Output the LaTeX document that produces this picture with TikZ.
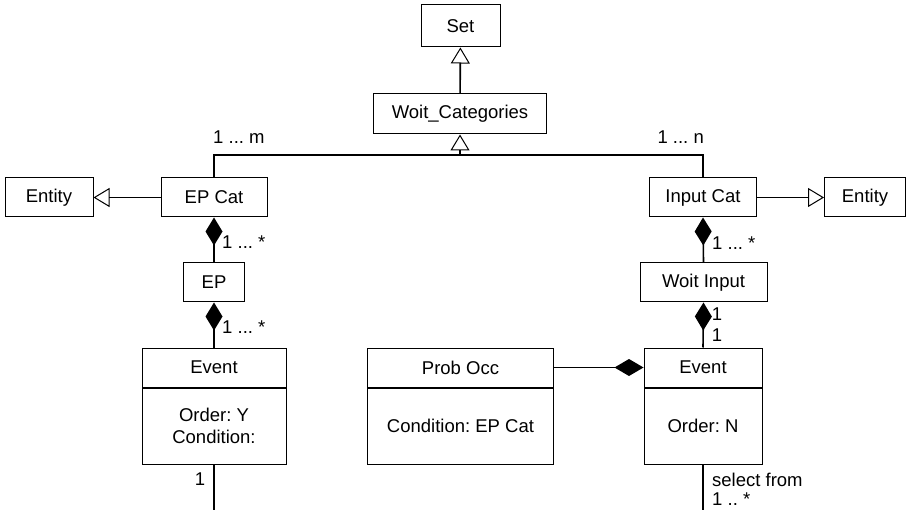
\documentclass[tikz,border=0pt]{standalone}
\usepackage{fontspec}
\setmainfont{Liberation Sans}
\usetikzlibrary{arrows.meta,positioning}

\tikzset{
  box/.style={draw, line width=1pt, rectangle, inner sep=0pt, minimum height=39pt,
    align=center, font=\fontsize{18.5}{22}\selectfont},
  conn/.style={line width=1.6pt},
  gen/.style={conn, -{Triangle[open, length=16pt, width=19pt, line width=1pt]}},
  comp/.style={conn, {Diamond[length=28pt, width=17pt]}-},
  lbl/.style={inner sep=0pt, font=\fontsize{18.5}{20}\selectfont},
}

\begin{document}
\frenchspacing
\begin{tikzpicture}[x=1pt, y=-1pt]
  \useasboundingbox (0,0) rectangle (907,510);

  % class boxes
  \node[box, minimum width=79pt, minimum height=42pt] (set) at (460.5,26) {Set};
  \node[box, minimum width=173pt, minimum height=40pt] (woit) at (460,114) {Woit\_Categories};
  \node[box, minimum width=106pt] (epcat) at (214,197.5) {EP Cat};
  \node[box, minimum width=88pt] (entL) at (49,197.5) {Entity};
  \node[box, minimum width=107pt] (inpcat) at (703,197.5) {Input Cat};
  \node[box, minimum width=81pt] (entR) at (865,197.5) {Entity};
  \node[box, minimum width=61pt] (ep) at (214,282.5) {EP};
  \node[box, minimum width=127pt] (woitin) at (703.5,282.5) {Woit Input};

  % classes with an attribute compartment
  \node[box, minimum width=144pt] (evLh) at (214,367.5) {Event};
  \node[box, minimum width=144pt, minimum height=76pt, anchor=north] (evLb) at (evLh.south) {Order: Y\\Condition:};
  \node[box, minimum width=186pt] (probh) at (460.5,367.5) {Prob Occ};
  \node[box, minimum width=186pt, minimum height=76pt, anchor=north] (probb) at (probh.south) {Condition: EP Cat};
  \node[box, minimum width=118pt] (evRh) at (703,367.5) {Event};
  \node[box, minimum width=118pt, minimum height=76pt, anchor=north] (evRb) at (evRh.south) {Order: N};

  % generalisations
  \draw[gen] (woit) -- (set);
  \coordinate (bus) at (460,155);
  \draw[gen] (bus) -- (woit.south);
  \draw[conn] (epcat.north) |- (bus) -| (inpcat.north);
  \draw[gen] (epcat.west) -- (entL.east);
  \draw[gen] (inpcat.east) -- (entR.west);

  \node[lbl, anchor=west] (mlbl) at (213,137) {1 ... m};
  \node[lbl, anchor=east] (nlbl) at (704,137) {1 ... n};

  % compositions
  \draw[comp] (epcat.south) -- (ep.north);
  \node[lbl, anchor=west] (c1) at (222,242) {1 ... *};
  \draw[comp] (ep.south) -- (evLh.north);
  \node[lbl, anchor=west] (c2) at (222,327) {1 ... *};
  \draw[comp] (inpcat.south) -- (woitin.north);
  \node[lbl, anchor=west] (c3) at (712,243) {1 ... *};
  \draw[comp] (woitin.south) -- (evRh.north);
  \node[lbl] (c4) at (717,314) {1};
  \node[lbl] (c5) at (717,335) {1};
  \draw[conn, -{Diamond[length=29pt, width=17pt]}] (probh.east) -- (evRh.west);

  % lines leaving the bottom
  \coordinate (endL) at (214,510);
  \coordinate (endR) at (703,510);
  \draw[conn] (evLb.south) -- (endL);
  \node[lbl] (c6) at (200,479) {1};
  \draw[conn] (evRb.south) -- (endR);
  \node[lbl, anchor=west, align=left] (c7) at (712,489) {select from\\[-1pt]1 .. *};
\end{tikzpicture}
\end{document}
